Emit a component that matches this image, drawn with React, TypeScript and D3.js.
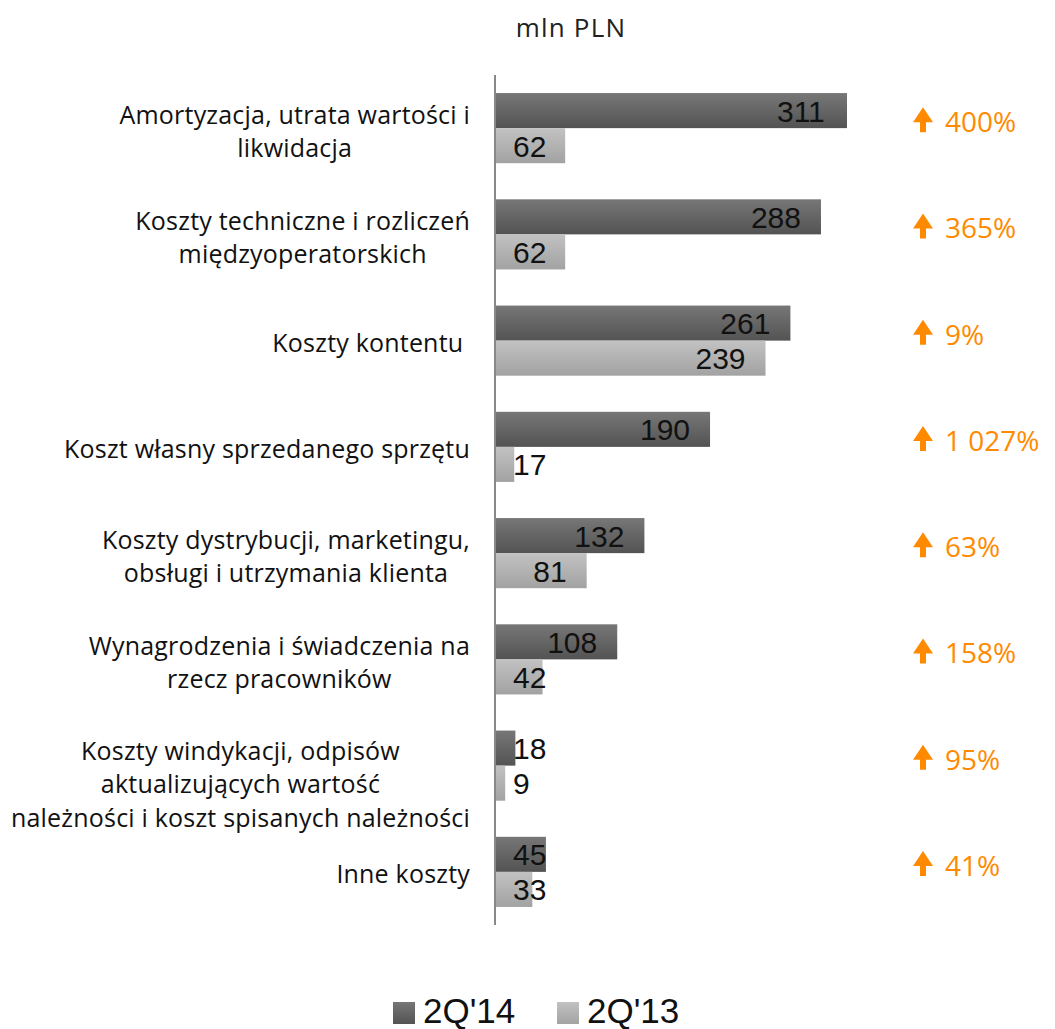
import React from "react";
import * as d3 from "d3";

const categories: string[][] = [
  ["Amortyzacja, utrata wartości i", "likwidacja"],
  ["Koszty techniczne i rozliczeń", "międzyoperatorskich"],
  ["Koszty kontentu "],
  ["Koszt własny sprzedanego sprzętu"],
  ["Koszty dystrybucji, marketingu,", "obsługi i utrzymania klienta"],
  ["Wynagrodzenia i świadczenia na", "rzecz pracowników"],
  ["Koszty windykacji, odpisów", "aktualizujących wartość", "należności i koszt spisanych należności"],
  ["Inne koszty"],
];
const q214: number[] = [311, 288, 261, 190, 132, 108, 18, 45];
const q213: number[] = [62, 62, 239, 17, 81, 42, 9, 33];
const changes: string[] = ["400%", "365%", "9%", "1 027%", "63%", "158%", "95%", "41%"];
const seriesNames: string[] = ["2Q'14", "2Q'13"];

const W = 1055;
const H = 1029;
const AX = 495;
const NUM_FONT = 30;
const CAT_FONT = 25;
const CAT_LS = 0.2;

let ctx: CanvasRenderingContext2D | null = null;
function measure(s: string): number {
  if (!ctx) ctx = document.createElement("canvas").getContext("2d");
  if (!ctx) return s.length * CAT_FONT * 0.5;
  ctx.font = `${CAT_FONT}px "Open Sans"`;
  return ctx.measureText(s).width + s.length * CAT_LS;
}

export default function App() {
  const ids = categories.map((_, i) => String(i));
  const y = d3.scaleBand<string>().domain(ids).range([75, 925]).paddingInner(0.34).paddingOuter(0.17);
  const sub = d3.scaleBand<string>().domain(["a", "b"]).range([0, y.bandwidth()]);
  const x = d3.scaleLinear().domain([0, 311]).range([AX, 847]);

  const numLabel = (v: number, yy: number, key: string) => {
    const end = x(v);
    const w = String(v).length * 0.556 * NUM_FONT;
    const start = Math.max(end - 20 - w, AX + 18);
    return (
      <text key={key} x={start} y={yy + sub.bandwidth() / 2 + 11} fontSize={NUM_FONT} fill="#111" fontFamily="Liberation Sans, Arial, sans-serif">
        {v}
      </text>
    );
  };

  return (
    <svg width={W} height={H} style={{ position: "absolute", left: 0, top: 0, background: "#fff" }}>
      <defs>
        <linearGradient id="gDark" x1="0" y1="0" x2="0" y2="1">
          <stop offset="0" stopColor="#777777" />
          <stop offset="1" stopColor="#535353" />
        </linearGradient>
        <linearGradient id="gLight" x1="0" y1="0" x2="0" y2="1">
          <stop offset="0" stopColor="#c2c2c2" />
          <stop offset="1" stopColor="#a2a2a2" />
        </linearGradient>
      </defs>
      <text x={571} y={37} textAnchor="middle" fontSize={26} letterSpacing={1.2} fill="#222" fontFamily="Open Sans, sans-serif">
        mln PLN
      </text>
      {ids.map((id, i) => {
        const top = y(id)!;
        const c = top + y.bandwidth() / 2;
        const lines = categories[i];
        const n = lines.length;
        const maxW = Math.max(...lines.map(measure));
        const cx = 470 - maxW / 2;
        const first = n === 1 ? c + 11 : n === 2 ? c - 4 : c - 6;
        const step = n === 3 ? 33.5 : 33;
        return (
          <g key={id}>
            <rect x={AX} y={top + sub("a")!} width={x(q214[i]) - AX} height={sub.bandwidth()} fill="url(#gDark)" />
            <rect x={AX} y={top + sub("b")!} width={x(q213[i]) - AX} height={sub.bandwidth()} fill="url(#gLight)" />
            {numLabel(q214[i], top + sub("a")!, "a")}
            {numLabel(q213[i], top + sub("b")!, "b")}
            {lines.map((ln, j) => (
              <text
                key={j}
                x={cx}
                y={first + j * step}
                textAnchor="middle"
                fontSize={CAT_FONT}
                letterSpacing={CAT_LS}
                fill="#111"
                fontFamily="Open Sans, sans-serif"
                style={{ whiteSpace: "pre" }}
              >
                {ln}
              </text>
            ))}
            <g transform={`translate(923,${c + 4})`}>
              <path d="M-3,0 L3,0 L3,-10 L10,-10 L0,-25 L-10,-10 L-3,-10 Z" fill="#ff8a00" />
            </g>
            <text x={945} y={c + 4} fontSize={28} fill="#ff8a00" fontFamily="Open Sans, sans-serif">
              {changes[i]}
            </text>
          </g>
        );
      })}
      <line x1={AX} x2={AX} y1={75} y2={925} stroke="#888" strokeWidth={2} />
      {seriesNames.map((s, i) => {
        const lx = i === 0 ? 393 : 557;
        return (
          <g key={s}>
            <rect x={lx} y={1002} width={22} height={22} fill={i === 0 ? "url(#gDark)" : "url(#gLight)"} />
            <text x={lx + 30} y={1023} fontSize={35} fill="#111" fontFamily="Liberation Sans, Arial, sans-serif">
              {s}
            </text>
          </g>
        );
      })}
    </svg>
  );
}
